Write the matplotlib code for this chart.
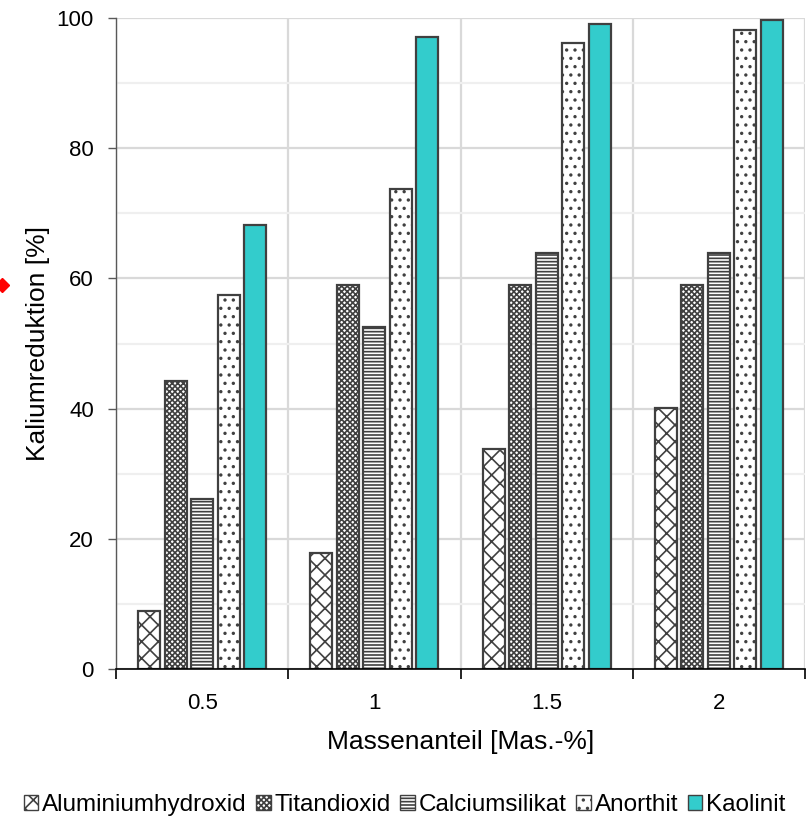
import matplotlib.pyplot as plt
import numpy as np
from matplotlib.patches import Patch
from matplotlib.lines import Line2D

plt.rcParams['font.family'] = ['Liberation Sans', 'DejaVu Sans']
plt.rcParams['hatch.linewidth'] = 1.2

# data
categories = ['0.5', '1', '1.5', '2']
series_names = ['Aluminiumhydroxid', 'Titandioxid', 'Calciumsilikat', 'Anorthit', 'Kaolinit']
aluminiumhydroxid = [8.9, 17.8, 33.8, 40.1]
titandioxid = [44.2, 59.0, 59.0, 59.0]
calciumsilikat = [26.1, 52.5, 63.9, 63.9]
anorthit = [57.4, 73.8, 96.1, 98.2]
kaolinit = [68.2, 97.1, 99.1, 99.7]

values = [aluminiumhydroxid, titandioxid, calciumsilikat, anorthit, kaolinit]
hatches = ['xx', 'xxxxxx', '-----', '..', None]
faces = ['white', 'white', 'white', 'white', '#33CCCC']
edge = '#404040'

fig = plt.figure(figsize=(8.09, 8.18), dpi=100)
ax = fig.add_axes([116 / 809, 149 / 818, 689 / 809, 651 / 818])

x = np.arange(len(categories)) + 0.5
width = 0.128
step = 0.154
for i, vals in enumerate(values):
    ax.bar(x + (i - 2) * step, vals, width, color=faces[i], edgecolor=edge,
           hatch=hatches[i], linewidth=1.6, zorder=3, label=series_names[i])

ax.set_xlim(0, 4)
ax.set_ylim(0, 100)
ax.set_yticks(np.arange(0, 101, 20))
ax.set_yticks(np.arange(0, 101, 10), minor=True)
ax.set_xticks(x)
ax.set_xticklabels(categories)
ax.set_xticks(np.arange(0, 5), minor=True)
ax.tick_params(axis='x', which='major', length=0, pad=17, labelsize=16)
ax.tick_params(axis='x', which='minor', length=7, width=1.2, color='black', direction='out')
ax.tick_params(axis='y', which='major', length=6, width=1.0, color='#595959', labelsize=16, pad=10)
ax.tick_params(axis='y', which='minor', length=0)

ax.grid(axis='y', which='major', color='#d9d9d9', linewidth=1.6, zorder=0)
ax.grid(axis='y', which='minor', color='#efefef', linewidth=1.6, zorder=0)
ax.grid(axis='x', which='minor', color='#d9d9d9', linewidth=1.6, zorder=0)
ax.set_axisbelow(True)

for s in ['top', 'right']:
    ax.spines[s].set_visible(False)
ax.spines['left'].set_color('#595959')
ax.spines['left'].set_linewidth(1.0)
ax.spines['bottom'].set_color('black')
ax.spines['bottom'].set_linewidth(1.2)
ax.spines['bottom'].set_zorder(4)

ax.set_xlabel('Massenanteil [Mas.-%]', fontsize=19, labelpad=12)
ax.set_ylabel('Kaliumreduktion [%]', fontsize=19, labelpad=5)

handles = [Patch(facecolor=faces[i], edgecolor=edge, hatch=hatches[i], linewidth=1.0)
           for i in range(len(series_names))]
fig.legend(handles, series_names, loc='center', bbox_to_anchor=(0.5, 0.016), ncol=5,
           frameon=False, fontsize=17.5, handlelength=0.6, handleheight=0.6,
           handletextpad=0.15, columnspacing=0.4, borderaxespad=0)

# small red marker at the left edge
fig.add_artist(Line2D([2 / 809], [1 - 285 / 818], marker='D', color='red',
                      markersize=7, transform=fig.transFigure, linestyle='none'))

fig.savefig('out.png', dpi=100)
